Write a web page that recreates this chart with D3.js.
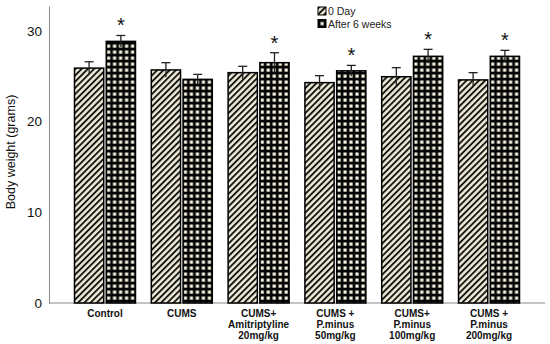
<!DOCTYPE html>
<html>
<head>
<meta charset="utf-8">
<style>
  body { margin: 0; background: #fff; overflow: hidden; }
  svg { font-family: "Liberation Sans", Arial, sans-serif; display: block; }
</style>
</head>
<body>
<svg id="chart" width="550" height="344"></svg>
<script src="https://d3js.org/d3.v7.min.js"></script>
<script>
var groups = [
  ['Control'],
  ['CUMS'],
  ['CUMS+', 'Amitriptyline', '20mg/kg'],
  ['CUMS +', 'P.minus', '50mg/kg'],
  ['CUMS+', 'P.minus', '100mg/kg'],
  ['CUMS +', 'P.minus', '200mg/kg']
]
var day0 = [25.9, 25.7, 25.4, 24.3, 24.95, 24.6]
var day0Err = [0.7, 0.8, 0.7, 0.77, 1.0, 0.8]
var week6 = [28.85, 24.66, 26.5, 25.6, 27.2, 27.2]
var week6Err = [0.65, 0.55, 1.1, 0.6, 0.77, 0.66]
var signif = [true, false, true, true, true, true]
var seriesNames = ['0 Day', 'After 6 weeks']
var yTicks = [0, 10, 20, 30]

var svg = d3.select('#chart')
var margin = {left: 49, right: 545, top: 6, bottom: 303}

var defs = svg.append('defs')
var hatch = defs.append('pattern')
  .attr('id', 'hatch')
  .attr('patternUnits', 'userSpaceOnUse')
  .attr('width', 4.4).attr('height', 4.4)
  .attr('patternTransform', 'rotate(45)')
hatch.append('rect').attr('width', 4.4).attr('height', 4.4).attr('fill', '#eeead6')
hatch.append('line').attr('x1', 1).attr('x2', 1).attr('y1', 0).attr('y2', 4.4)
  .attr('stroke', '#0a0a0a').attr('stroke-width', 1.8)

var check = defs.append('pattern')
  .attr('id', 'check')
  .attr('patternUnits', 'userSpaceOnUse')
  .attr('width', 6).attr('height', 6)
  .attr('x', 1).attr('y', 1)
check.append('rect').attr('width', 6).attr('height', 6).attr('fill', '#050505')
check.append('rect').attr('x', 1.5).attr('y', 1.5).attr('width', 3.2).attr('height', 3.2).attr('fill', '#f6f3e0')

var x0 = d3.scaleBand()
  .domain(d3.range(groups.length))
  .range([margin.left, margin.right])
  .paddingInner(0.206)
  .paddingOuter(0.332)
var x1 = d3.scaleBand()
  .domain([0, 1])
  .range([0, x0.bandwidth()])
  .paddingInner(0.08)
var y = d3.scaleLinear().domain([0, 32.75]).range([margin.bottom, margin.top])

// y axis
var yAxis = svg.append('g')
  .attr('transform', `translate(${margin.left},0)`)
  .call(d3.axisLeft(y).tickValues(yTicks).tickSize(0).tickPadding(7))
yAxis.select('.domain').attr('stroke', '#888').attr('stroke-width', 1)
yAxis.selectAll('text').attr('font-size', 13.5).attr('fill', '#111')
  .attr('font-family', '"Liberation Sans", Arial, sans-serif')

// x axis line
svg.append('line')
  .attr('x1', margin.left).attr('x2', margin.right)
  .attr('y1', margin.bottom).attr('y2', margin.bottom)
  .attr('stroke', '#888')

svg.append('text')
  .attr('transform', 'translate(15,152) rotate(-90)')
  .attr('text-anchor', 'middle')
  .attr('font-size', 12.5)
  .attr('fill', '#111')
  .text('Body weight (grams)')

var rows = groups.map((g, i) => ({
  i: i,
  vals: [
    {s: 0, v: day0[i], e: day0Err[i]},
    {s: 1, v: week6[i], e: week6Err[i]}
  ]
}))

var grp = svg.selectAll('.grp')
  .data(rows)
  .enter()
  .append('g')
  .attr('transform', d => `translate(${x0(d.i)},0)`)

var bar = grp.selectAll('.bar')
  .data(d => d.vals)
  .enter()
  .append('g')

bar.append('rect')
  .attr('x', d => x1(d.s))
  .attr('y', d => y(d.v))
  .attr('width', x1.bandwidth())
  .attr('height', d => margin.bottom - y(d.v))
  .attr('fill', d => d.s === 0 ? 'url(#hatch)' : 'url(#check)')
  .attr('stroke', '#000')
  .attr('stroke-width', 1.5)

// error bars
bar.append('line')
  .attr('x1', d => x1(d.s) + x1.bandwidth() / 2)
  .attr('x2', d => x1(d.s) + x1.bandwidth() / 2)
  .attr('y1', d => y(d.v - d.e))
  .attr('y2', d => y(d.v + d.e))
  .attr('stroke', '#222').attr('stroke-width', 1.3)
bar.append('line')
  .attr('x1', d => x1(d.s) + x1.bandwidth() / 2 - 4.5)
  .attr('x2', d => x1(d.s) + x1.bandwidth() / 2 + 4.5)
  .attr('y1', d => y(d.v + d.e))
  .attr('y2', d => y(d.v + d.e))
  .attr('stroke', '#222').attr('stroke-width', 1.3)

// significance stars
grp.filter(d => signif[d.i])
  .append('text')
  .attr('x', x1(1) + x1.bandwidth() / 2)
  .attr('y', d => y(week6[d.i] + week6Err[d.i]) - 3)
  .attr('text-anchor', 'middle')
  .attr('font-size', 20)
  .attr('fill', '#111')
  .text('*')

// category labels
grp.append('text')
  .attr('x', x0.bandwidth() / 2)
  .attr('y', 317)
  .attr('text-anchor', 'middle')
  .attr('font-size', 10)
  .attr('font-weight', 'bold')
  .attr('fill', '#111')
  .selectAll('tspan')
  .data(d => groups[d.i])
  .enter()
  .append('tspan')
  .attr('x', x0.bandwidth() / 2)
  .attr('dy', (d, j) => j === 0 ? 0 : 10.8)
  .text(d => d)

// legend
var legend = svg.append('g').attr('transform', 'translate(318,7)')
var li = legend.selectAll('g')
  .data(seriesNames)
  .enter()
  .append('g')
  .attr('transform', (d, i) => `translate(0,${i * 12.5})`)
li.append('rect')
  .attr('width', 8).attr('height', 8)
  .attr('fill', (d, i) => i === 0 ? 'url(#hatch)' : 'url(#check)')
  .attr('stroke', '#000').attr('stroke-width', 1)
li.append('text')
  .attr('x', 10).attr('y', 8)
  .attr('font-size', 10.5)
  .attr('fill', '#222')
  .text(d => d)
</script>
</body>
</html>
